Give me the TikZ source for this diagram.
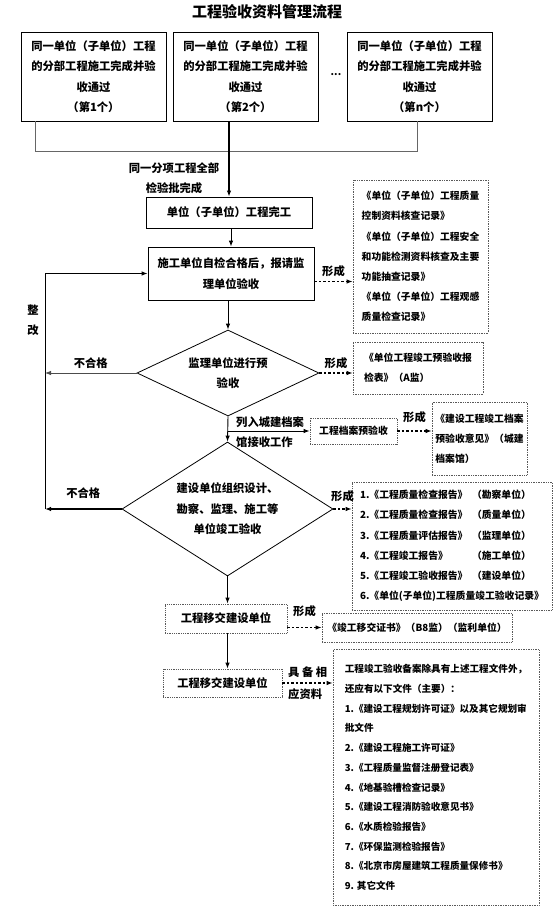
\documentclass[tikz,border=0pt]{standalone}
\usepackage{fontspec}
\setmainfont{Noto Sans CJK SC}
\usetikzlibrary{shapes.geometric,arrows.meta}

\newcommand{\boxfont}{\fontsize{11.3}{20.5}\selectfont\bfseries}
\newcommand{\docfont}{\fontsize{9.8}{20.2}\selectfont\bfseries}

\begin{document}
\begin{tikzpicture}[x=1pt, y=-1pt,
  stagebox/.style={draw, line width=0.8pt, align=center, inner sep=0pt, font=\boxfont},
  handbox/.style={draw=gray!70!black, densely dotted, line width=0.8pt, align=center, inner sep=0pt, font=\boxfont},
  notebox/.style={draw=gray!70!black, densely dotted, line width=0.7pt, align=left, inner sep=0pt, font=\docfont},
  checkdiamond/.style={draw, diamond, aspect=2, line width=0.8pt, align=center, inner sep=0pt, font=\boxfont},
  flowline/.style={-{Latex[length=6pt,width=4.5pt]}, line width=0.9pt},
  formline/.style={-{Latex[length=6pt,width=4.5pt]}, line width=1.1pt, dash pattern=on 2.5pt off 2pt},
  lbl/.style={font=\boxfont, inner sep=0pt}
]
  \useasboundingbox (0,0) rectangle (554,911);

  \node[font=\fontsize{15}{18}\selectfont\bfseries] (title) at (267,12) {工程验收资料管理流程};

  % sub-projects
  \node[stagebox, minimum width=145, minimum height=89] (sub1) at (93.5,76.5) {同一单位（子单位）工程\\的分部工程施工完成并验\\收通过\\（第1个）};
  \node[stagebox, minimum width=145, minimum height=89] (sub2) at (245.5,76.5) {同一单位（子单位）工程\\的分部工程施工完成并验\\收通过\\（第2个）};
  \node[stagebox, minimum width=145, minimum height=89] (sub3) at (419.5,76.5) {同一单位（子单位）工程\\的分部工程施工完成并验\\收通过\\（第n个）};
  \node[font=\fontsize{10}{12}\selectfont\bfseries] (dots) at (336,75) {...};

  \coordinate (jl) at (35,151);
  \coordinate (jr) at (417,151);
  \draw[gray!80!black, line width=0.8pt] (sub1.south -| jl) -- (jl) -- (jr) -- (sub3.south -| jr);

  \node[stagebox, minimum width=166, minimum height=31] (done) at (229,212.5) {单位（子单位）工程完工};
  \draw[flowline, line width=1.3pt] (sub2.south -| done.north) -- (done.north);
  \node[lbl, align=center] (batch) at (174,178) {同一分项工程全部\\检验批完成};

  \node[stagebox, minimum width=166, minimum height=53] (check) at (231,273.5) {施工单位自检合格后，报请监\\理单位验收};
  \draw[flowline] (done.south -| check.north) -- (check.north);

  \node[notebox, minimum width=135, minimum height=153] (rec1) at (420.5,256.5) {《单位（子单位）工程质量\\控制资料核查记录》\\《单位（子单位）工程安全\\和功能检测资料核查及主要\\功能抽查记录》\\《单位（子单位）工程观感\\质量检查记录》};
  \draw[formline] ([yshift=-8pt]check.east) -- ([yshift=-8pt]check.east -| rec1.west) node[lbl, midway, above=4pt] {形成};

  % rework loop
  \coordinate (fb) at (45,509);
  \draw[flowline] (fb) |- (check.west);
  \node[lbl, align=center] (redo) at (33,320) {整\\改};

  \node[checkdiamond, minimum width=182, minimum height=86] (pre) at (228,373) {监理单位进行预\\验收};
  \draw[flowline] (check.south -| pre.north) -- (pre.north);
  \draw[flowline, gray!60!black, line width=0.8pt] (pre.west) -- (pre.west -| fb) node[lbl, midway, above=4pt, text=black] {不合格};

  \node[notebox, minimum width=130, minimum height=52] (rec2) at (418,368) {《单位工程竣工预验收报\\检表》（A监）};
  \draw[formline] (pre.east) -- (pre.east -| rec2.west) node[lbl, midway, above=4pt] {形成};

  \node[checkdiamond, minimum width=211, minimum height=134] (final) at (227.5,509) {建设单位组织设计、\\勘察、监理、施工等\\单位竣工验收};
  \draw[flowline] (pre.south) -- (final.north);

  % archive branch
  \node[handbox, font=\docfont, minimum width=87, minimum height=26] (arch) at (353.5,431) {工程档案预验收};
  \coordinate (branch) at (pre.south |- arch.west);
  \draw[flowline] (branch) -- (arch.west);
  \node[lbl, anchor=west] (listin) at (236,422) {列入城建档案};
  \node[lbl, anchor=west] (archin) at (236,442) {馆接收工作};
  \node[notebox, minimum width=95, minimum height=73] (rec3) at (479.5,438.5) {《建设工程竣工档案\\预验收意见》（城建\\档案馆）};
  \draw[formline] (arch.east) -- (arch.east -| rec3.west) node[lbl, midway, above=8pt] {形成};

  \draw[flowline, line width=1.5pt] (final.west) -- (fb) node[lbl, midway, above=10pt] {不合格};

  \node[notebox, minimum width=200, minimum height=128] (rec4) at (452,546) {\makebox[112pt][l]{1.《工程质量检查报告》}（勘察单位）\\\makebox[112pt][l]{2.《工程质量检查报告》}（质量单位）\\\makebox[112pt][l]{3.《工程质量评估报告》}（监理单位）\\\makebox[112pt][l]{4.《工程竣工报告》}（施工单位）\\\makebox[112pt][l]{5.《工程竣工验收报告》}（建设单位）\\6.《单位(子单位)工程质量竣工验收记录》};
  \draw[formline] (final.east) -- (final.east -| rec4.west) node[lbl, midway, above=7pt] {形成};

  % hand-over
  \node[handbox, minimum width=122, minimum height=29] (hand1) at (226,618.5) {工程移交建设单位};
  \draw[flowline] (final.south) -- (final.south |- hand1.north);
  \node[notebox, minimum width=190, minimum height=29] (cert) at (417,627.5) {《竣工移交证书》（B8监）（监利单位）};
  \draw[formline] (cert.west -| hand1.east) -- (cert.west) node[lbl, midway, above=10pt] {形成};

  \node[handbox, minimum width=119, minimum height=28] (hand2) at (222.5,683) {工程移交建设单位};
  \draw[flowline] (final.south |- hand1.south) -- (final.south |- hand2.north);
  \node[notebox, font=\fontsize{9.6}{19.7}\selectfont\bfseries, minimum width=206, minimum height=256] (filelist) at (436,777.5) {工程竣工验收备案除具有上述工程文件外，\\还应有以下文件（主要）：\\1.《建设工程规划许可证》以及其它规划审\\批文件\\2.《建设工程施工许可证》\\3.《工程质量监督注册登记表》\\4.《地基验槽检查记录》\\5.《建设工程消防验收意见书》\\6.《水质检验报告》\\7.《环保监测检验报告》\\8.《北京市房屋建筑工程质量保修书》\\9. 其它文件};
  \draw[formline] (hand2.east) -- (hand2.east -| filelist.west);
  \node[lbl, anchor=west] (prep) at (288,672) {具 备 相};
  \node[lbl, anchor=west] (docs) at (288,694) {应资料};
\end{tikzpicture}
\end{document}
